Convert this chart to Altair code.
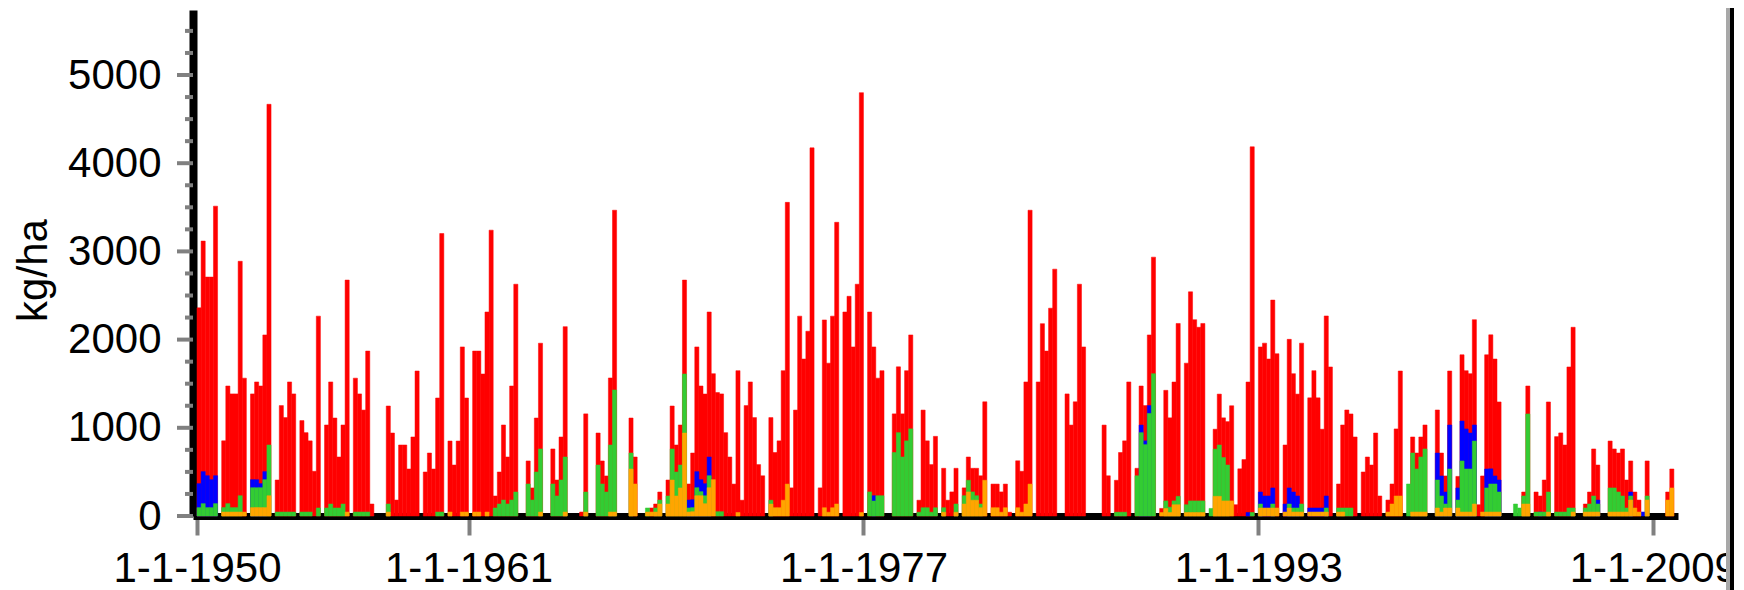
import altair as alt
import pandas as pd

FONT = "Liberation Sans"

# Bimonthly values (kg/ha), six per year, 1950 .. 2009.
# Each list gives the upper level of that colour band in the stacked bar.
red = [
    2360, 3117, 2709, 2709, 3513, 0,
    852, 1474, 1384, 1384, 2888, 1563,
    0, 1384, 1520, 1474, 2053, 4668,
    0, 408, 1252, 1116, 1520, 1384,
    0, 1082, 945, 852, 507, 2266,
    0, 1032, 1520, 1111, 669, 1032,
    2675, 0, 1563, 1384, 1201, 1870,
    136, 0, 0, 0, 1247, 941,
    181, 805, 805, 533, 896, 1644,
    0, 499, 714, 533, 1338, 3203,
    0, 850, 578, 850, 1917, 1338,
    0, 1870, 1870, 1610, 2313, 3241,
    227, 499, 1032, 669, 1474, 2628,
    0, 0, 624, 318, 1111, 1959,
    0, 0, 760, 408, 896, 2147,
    0, 0, 0, 45, 1158, 0,
    0, 941, 624, 454, 1565, 3467,
    0, 0, 0, 1111, 669, 0,
    0, 0, 91, 136, 272, 0,
    408, 1247, 805, 1032, 2675, 363,
    714, 1917, 1474, 1383, 2313, 1614,
    1400, 1384, 945, 669, 362, 1648,
    179, 1252, 1520, 1116, 583, 456,
    0, 1116, 720, 852, 1648, 3556,
    319, 1201, 2266, 1780, 2095, 4174,
    0, 319, 2223, 1733, 2266, 3330,
    0, 2313, 2491, 1917, 2628, 4800,
    0, 2313, 1917, 1563, 1648, 0,
    0, 1158, 1691, 1158, 1648, 2053,
    0, 179, 1201, 852, 583, 903,
    0, 541, 179, 273, 541, 0,
    319, 669, 541, 541, 456, 1295,
    0, 362, 362, 273, 362, 43,
    0, 626, 507, 1520, 3467, 0,
    1520, 2181, 1870, 2356, 2799, 0,
    0, 1384, 1031, 1295, 2628, 1917,
    0, 0, 0, 0, 1031, 456,
    0, 405, 720, 852, 1520, 0,
    541, 1474, 1252, 2053, 2935, 0,
    86, 1425, 1113, 1519, 2183, 0,
    1733, 2542, 2226, 2140, 2183, 0,
    0, 984, 1382, 1113, 1070, 1250,
    128, 535, 640, 1519, 4186, 0,
    1917, 1960, 1780, 2448, 1840, 0,
    805, 2003, 1614, 1382, 1960, 0,
    1340, 1648, 1340, 984, 2268, 1690,
    0, 363, 1032, 1202, 1157, 896,
    0, 499, 669, 578, 941, 227,
    0, 181, 363, 987, 1644, 0,
    0, 896, 714, 896, 1032, 0,
    0, 1202, 714, 454, 1644, 0,
    449, 1828, 1648, 1614, 2226, 128,
    454, 1828, 2054, 1780, 1293, 0,
    0, 0, 0, 0, 272, 1474,
    0, 272, 227, 408, 1293, 0,
    900, 942, 805, 1690, 2140, 0,
    0, 136, 272, 760, 578, 0,
    0, 850, 760, 714, 760, 408,
    624, 272, 181, 0, 624, 0,
    0, 0, 0, 272, 533, 0,
]

blue = [
    367, 503, 457, 412, 457, 0,
    0, 0, 0, 0, 0, 0,
    0, 412, 412, 367, 503, 0,
    0, 0, 0, 0, 0, 0,
    0, 0, 0, 0, 0, 0,
    0, 0, 0, 0, 0, 0,
    0, 0, 0, 0, 0, 0,
    0, 0, 0, 0, 0, 0,
    0, 0, 0, 0, 0, 0,
    0, 0, 0, 0, 0, 0,
    0, 0, 0, 0, 0, 0,
    0, 0, 0, 0, 0, 0,
    0, 0, 0, 0, 0, 0,
    0, 0, 0, 0, 0, 0,
    0, 0, 0, 0, 0, 0,
    0, 0, 0, 0, 0, 0,
    0, 0, 0, 0, 0, 0,
    0, 0, 0, 0, 0, 0,
    0, 0, 0, 0, 0, 0,
    0, 0, 0, 0, 0, 181,
    185, 503, 412, 367, 669, 0,
    0, 0, 0, 0, 0, 0,
    0, 0, 0, 0, 0, 0,
    0, 0, 0, 0, 0, 0,
    0, 0, 0, 0, 0, 0,
    0, 0, 0, 0, 0, 0,
    0, 0, 0, 0, 0, 0,
    0, 0, 230, 0, 0, 0,
    0, 0, 0, 0, 0, 0,
    0, 0, 0, 0, 0, 0,
    0, 0, 0, 0, 0, 0,
    0, 0, 0, 0, 0, 0,
    0, 0, 0, 0, 0, 0,
    0, 0, 0, 0, 0, 0,
    0, 0, 0, 0, 0, 0,
    0, 0, 0, 0, 0, 0,
    0, 0, 0, 0, 0, 0,
    0, 0, 0, 0, 0, 0,
    0, 1031, 852, 1252, 0, 0,
    0, 0, 0, 0, 0, 0,
    0, 0, 0, 0, 0, 0,
    0, 0, 0, 0, 0, 0,
    0, 0, 0, 40, 0, 0,
    272, 227, 227, 318, 0, 0,
    136, 318, 272, 227, 0, 0,
    91, 91, 91, 91, 227, 0,
    0, 0, 0, 0, 0, 0,
    0, 0, 0, 0, 0, 0,
    0, 0, 0, 0, 0, 0,
    0, 0, 0, 0, 0, 0,
    0, 714, 454, 272, 1032, 0,
    318, 1077, 987, 941, 1032, 0,
    0, 533, 535, 454, 408, 0,
    0, 0, 0, 0, 0, 0,
    0, 0, 45, 0, 0, 0,
    0, 0, 0, 0, 0, 0,
    0, 0, 0, 0, 181, 0,
    0, 0, 0, 0, 0, 0,
    272, 0, 0, 45, 0, 0,
    0, 0, 0, 0, 0, 0,
]

green = [
    95, 140, 95, 95, 140, 0,
    95, 140, 95, 95, 230, 0,
    0, 321, 321, 321, 412, 805,
    0, 45, 45, 45, 45, 45,
    0, 45, 45, 45, 0, 91,
    0, 91, 136, 91, 91, 136,
    0, 0, 45, 45, 45, 45,
    0, 0, 0, 0, 136, 0,
    0, 0, 0, 0, 0, 0,
    0, 0, 0, 0, 45, 45,
    0, 0, 0, 0, 0, 0,
    0, 0, 0, 0, 0, 0,
    91, 136, 181, 136, 181, 272,
    0, 0, 363, 181, 499, 760,
    0, 0, 363, 227, 408, 669,
    0, 0, 0, 0, 272, 0,
    0, 578, 363, 272, 805, 1429,
    0, 0, 0, 714, 0, 0,
    0, 91, 0, 91, 181, 0,
    227, 760, 499, 578, 1610, 91,
    95, 321, 276, 230, 457, 0,
    49, 49, 0, 0, 0, 0,
    0, 0, 0, 0, 0, 0,
    0, 179, 0, 0, 0, 0,
    0, 0, 0, 0, 0, 0,
    0, 0, 0, 0, 0, 0,
    0, 0, 0, 0, 0, 0,
    0, 273, 170, 230, 230, 0,
    0, 720, 945, 669, 852, 988,
    0, 43, 94, 94, 43, 94,
    0, 94, 0, 0, 136, 0,
    230, 405, 273, 230, 136, 0,
    0, 0, 0, 0, 0, 0,
    0, 0, 0, 0, 0, 0,
    0, 0, 0, 0, 0, 0,
    0, 0, 0, 0, 0, 0,
    0, 0, 0, 0, 0, 0,
    0, 43, 43, 43, 0, 0,
    456, 945, 809, 1163, 1614, 0,
    0, 171, 100, 171, 223, 0,
    128, 171, 171, 171, 171, 0,
    86, 758, 805, 663, 578, 0,
    0, 0, 0, 0, 40, 0,
    136, 0, 0, 136, 0, 0,
    0, 136, 91, 91, 136, 0,
    0, 0, 0, 0, 91, 0,
    0, 91, 91, 91, 91, 0,
    0, 0, 0, 0, 0, 0,
    0, 0, 0, 0, 0, 0,
    363, 714, 533, 669, 760, 0,
    0, 408, 227, 136, 533, 0,
    181, 624, 533, 533, 850, 0,
    0, 318, 363, 363, 272, 0,
    0, 0, 136, 91, 227, 1157,
    0, 45, 45, 45, 272, 0,
    45, 45, 45, 91, 91, 0,
    0, 91, 136, 227, 136, 0,
    0, 318, 318, 272, 227, 91,
    227, 0, 0, 0, 227, 0,
    0, 0, 0, 0, 0, 0,
]

orange = [
    0, 0, 0, 0, 0, 0,
    45, 45, 45, 45, 45, 45,
    0, 95, 95, 95, 95, 230,
    0, 0, 0, 0, 0, 0,
    0, 0, 0, 0, 0, 0,
    0, 0, 0, 0, 0, 0,
    45, 0, 0, 0, 0, 0,
    0, 0, 0, 0, 45, 0,
    0, 0, 0, 0, 0, 0,
    0, 0, 0, 0, 0, 0,
    0, 45, 0, 0, 45, 45,
    0, 45, 45, 0, 45, 0,
    0, 0, 0, 0, 0, 0,
    0, 0, 0, 0, 0, 45,
    0, 0, 0, 0, 0, 45,
    0, 0, 0, 0, 45, 0,
    0, 0, 0, 0, 45, 45,
    0, 0, 0, 533, 363, 0,
    0, 45, 45, 45, 136, 0,
    136, 408, 227, 318, 941, 45,
    49, 230, 230, 140, 321, 412,
    0, 0, 0, 0, 0, 40,
    0, 0, 0, 0, 0, 0,
    0, 136, 94, 94, 179, 362,
    0, 0, 0, 0, 0, 0,
    0, 0, 94, 43, 94, 136,
    0, 0, 0, 0, 0, 40,
    0, 0, 0, 0, 0, 0,
    0, 0, 0, 0, 0, 0,
    0, 0, 0, 0, 0, 0,
    0, 43, 0, 0, 43, 0,
    136, 273, 179, 179, 94, 405,
    0, 94, 94, 43, 94, 0,
    0, 94, 43, 136, 362, 0,
    0, 0, 0, 0, 0, 0,
    0, 0, 0, 0, 0, 0,
    0, 0, 0, 0, 0, 0,
    0, 0, 0, 0, 0, 0,
    0, 0, 0, 0, 0, 0,
    40, 86, 40, 128, 128, 0,
    40, 40, 40, 40, 40, 0,
    0, 223, 223, 171, 171, 171,
    0, 0, 0, 0, 0, 0,
    91, 91, 91, 91, 91, 0,
    45, 91, 45, 45, 45, 0,
    45, 45, 45, 45, 45, 0,
    0, 45, 45, 0, 0, 0,
    0, 0, 0, 0, 0, 0,
    0, 45, 136, 227, 227, 0,
    0, 45, 45, 45, 45, 0,
    0, 91, 45, 91, 91, 0,
    91, 45, 45, 45, 136, 0,
    45, 45, 45, 45, 45, 0,
    0, 0, 0, 0, 136, 136,
    0, 0, 0, 0, 45, 0,
    0, 0, 0, 0, 45, 0,
    0, 45, 45, 45, 45, 0,
    0, 45, 45, 45, 45, 45,
    181, 91, 45, 0, 181, 0,
    0, 0, 0, 181, 318, 0,
]

series_names = ["red", "blue", "green", "orange"]
series_colors = ["#ff0000", "#0000ff", "#33cc33", "#ffa500"]
x_tick_years = [1950, 1961, 1977, 1993, 2009]
y_major = [0, 1000, 2000, 3000, 4000, 5000]
y_minor = [250, 500, 750, 1250, 1500, 1750, 2250, 2500, 2750, 3250, 3500, 3750,
           4250, 4500, 4750, 5250, 5500]

PER_YEAR = 6
rows = []
for rank, (name, vals) in enumerate(zip(series_names, [red, blue, green, orange])):
    for i, v in enumerate(vals):
        if v > 0:
            rows.append({"t0": 1950 + i / PER_YEAR, "t1": 1950 + (i + 1) / PER_YEAR,
                         "value": v, "series": name, "rank": rank})
df = pd.DataFrame(rows)

W, H = 1485, 506
xscale = alt.Scale(domain=[1949.838, 2010.0], nice=False, zero=False)
yscale = alt.Scale(domain=[0, 5737], nice=False, zero=True)
cscale = alt.Scale(domain=series_names, range=series_colors)

x_axis = alt.Axis(
    values=x_tick_years, labelExpr="'1-1-' + datum.value", grid=False,
    domainColor="black", domainWidth=7, tickColor="#808080", tickSize=19, tickWidth=4,
    labelFont=FONT, labelFontSize=42, labelColor="black", labelPadding=13,
    labelFlush=False, labelOverlap=False, title=None,
)
y_axis = alt.Axis(
    values=y_major, format="d", grid=False,
    domainColor="black", domainWidth=8, tickOpacity=0, tickSize=16,
    labelFont=FONT, labelFontSize=42, labelColor="black", labelPadding=16,
    labelFlush=False, labelOverlap=False,
    title="kg/ha", titleFont=FONT, titleFontSize=42, titleFontWeight="normal",
    titleColor="black", titleAngle=270, titleX=-147, titleY=260,
    titleAlign="center", titleBaseline="alphabetic",
)

bars = alt.Chart(df).mark_bar(strokeWidth=0.5).encode(
    x=alt.X("t0:Q", scale=xscale, axis=x_axis),
    x2="t1:Q",
    y=alt.Y("value:Q", stack=None, scale=yscale, axis=y_axis),
    y2=alt.datum(0),
    color=alt.Color("series:N", scale=cscale, legend=None),
    stroke=alt.Color("series:N", scale=cscale, legend=None),
    order=alt.Order("rank:Q"),
)

major_ticks = alt.Chart(pd.DataFrame({"value": y_major})).mark_rule(
    color="#808080", strokeWidth=4
).encode(x=alt.value(-16), x2=alt.value(0),
         y=alt.Y("value:Q", scale=yscale, axis=y_axis))

minor_ticks = alt.Chart(pd.DataFrame({"value": y_minor})).mark_rule(
    color="#808080", strokeWidth=4
).encode(x=alt.value(-8), x2=alt.value(0),
         y=alt.Y("value:Q", scale=yscale, axis=y_axis))

one = pd.DataFrame({"a": [0]})
cover = alt.Chart(one).mark_rect(color="white").encode(
    x=alt.value(1541), x2=alt.value(1620), y=alt.value(-20), y2=alt.value(620)
)
edge_gray = alt.Chart(one).mark_rule(color="#a8a8a8", strokeWidth=4).encode(
    x=alt.value(1535), y=alt.value(-20), y2=alt.value(620)
)
edge_dark = alt.Chart(one).mark_rule(color="#000000", strokeWidth=4).encode(
    x=alt.value(1539), y=alt.value(-20), y2=alt.value(620)
)

chart = alt.layer(bars, major_ticks, minor_ticks, cover, edge_gray, edge_dark).properties(
    width=W, height=H,
    padding={"left": 185, "top": 2, "right": 58, "bottom": 74},
    autosize=alt.AutoSizeParams(type="none"),
    background="white",
).configure_view(stroke=None)

chart.save("out.html", embed_options={"renderer": "svg", "actions": False})
